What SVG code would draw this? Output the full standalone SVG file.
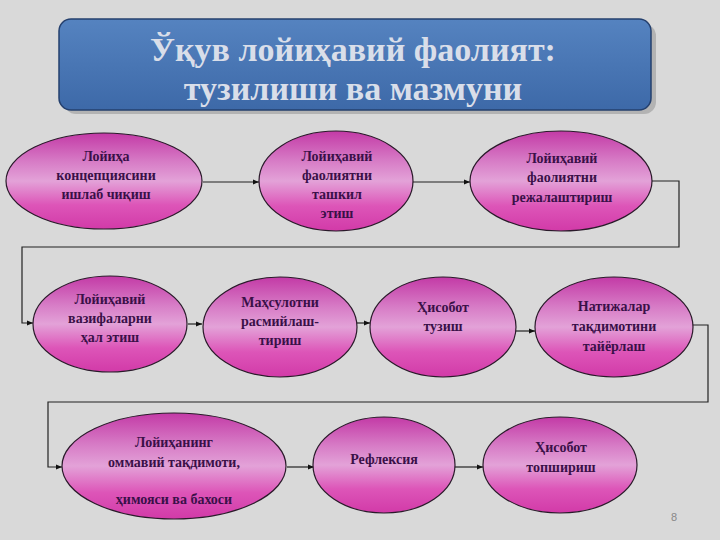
<svg xmlns="http://www.w3.org/2000/svg" width="720" height="540" viewBox="0 0 720 540">
<defs>
<linearGradient id="pink" x1="0" y1="0" x2="0" y2="1">
<stop offset="0" stop-color="#c33aa6"/>
<stop offset="0.3" stop-color="#d77cc6"/>
<stop offset="0.5" stop-color="#e3a2d8"/>
<stop offset="0.75" stop-color="#dd55b8"/>
<stop offset="1" stop-color="#d23aa8"/>
</linearGradient>
<linearGradient id="blue" x1="0" y1="0" x2="0" y2="1">
<stop offset="0" stop-color="#5583c0"/>
<stop offset="1" stop-color="#3d69a8"/>
</linearGradient>
<marker id="arr" viewBox="0 0 10 10" refX="10" refY="5" markerWidth="6" markerHeight="6" orient="auto" markerUnits="userSpaceOnUse">
<path d="M0,1 L10,5 L0,9 z" fill="#111"/>
</marker>
</defs>
<style>
.node ellipse{fill:url(#pink);stroke:#2a1a2a;stroke-width:1.2}
.node text{font-family:'Liberation Serif','Times New Roman','DejaVu Serif',serif;font-weight:bold;font-size:14px;fill:#3a1048;text-anchor:middle}
.conn path{fill:none;stroke:#222;stroke-width:1.2}
.title{font-family:'Liberation Serif','Times New Roman','DejaVu Serif',serif;font-weight:bold;font-size:34px;fill:#d9dee9;text-anchor:middle}
</style>
<rect x="0" y="0" width="720" height="540" fill="#d9d9d9"/>
<g id="title">
<rect x="64" y="24" width="592" height="90" rx="12" fill="#9a9a9a" opacity="0.6"/>
<rect x="59" y="19" width="592" height="91" rx="12" fill="url(#blue)" stroke="#25406e" stroke-width="1.5"/>
<text class="title" x="353" y="61">Ўқув лойиҳавий фаолият:</text>
<text class="title" x="353" y="100">тузилиши ва мазмуни</text>
</g>
<g id="connectors" class="conn">
<path d="M203,182 H259" marker-end="url(#arr)"/>
<path d="M413,182 H470" marker-end="url(#arr)"/>
<path d="M652,181 H679 V247 H22 V323 H33" marker-end="url(#arr)"/>
<path d="M188,324 H202" marker-end="url(#arr)"/>
<path d="M357,323 H370" marker-end="url(#arr)"/>
<path d="M516,331 H535" marker-end="url(#arr)"/>
<path d="M693,325 H708 V402 H48 V467 H62" marker-end="url(#arr)"/>
<path d="M287,467 H314" marker-end="url(#arr)"/>
<path d="M455,467 H483" marker-end="url(#arr)"/>
</g>
<g id="n1" class="node">
<ellipse cx="104" cy="181" rx="98" ry="48"/>
<text x="106" y="161">Лойиҳа</text>
<text x="106" y="180">концепциясини</text>
<text x="106" y="199">ишлаб чиқиш</text>
</g>
<g id="n2" class="node">
<ellipse cx="336" cy="181" rx="77" ry="50"/>
<text x="337" y="161">Лойиҳавий</text>
<text x="337" y="180">фаолиятни</text>
<text x="337" y="199">ташкил</text>
<text x="337" y="218">этиш</text>
</g>
<g id="n3" class="node">
<ellipse cx="561" cy="181" rx="91" ry="50"/>
<text x="562" y="163">Лойиҳавий</text>
<text x="562" y="182">фаолиятни</text>
<text x="562" y="202">режалаштириш</text>
</g>
<g id="n4" class="node">
<ellipse cx="110" cy="324" rx="77" ry="48"/>
<text x="110" y="304">Лойиҳавий</text>
<text x="110" y="323">вазифаларни</text>
<text x="110" y="342">ҳал этиш</text>
</g>
<g id="n5" class="node">
<ellipse cx="280" cy="327" rx="77" ry="50"/>
<text x="280" y="307">Маҳсулотни</text>
<text x="280" y="326">расмийлаш-</text>
<text x="280" y="345">тириш</text>
</g>
<g id="n6" class="node">
<ellipse cx="443" cy="327" rx="73" ry="50"/>
<text x="443" y="312">Ҳисобот</text>
<text x="443" y="331">тузиш</text>
</g>
<g id="n7" class="node">
<ellipse cx="614" cy="327" rx="79" ry="50"/>
<text x="614" y="311">Натижалар</text>
<text x="614" y="331">тақдимотини</text>
<text x="614" y="351">тайёрлаш</text>
</g>
<g id="n8" class="node">
<ellipse cx="174" cy="466" rx="112" ry="53"/>
<text x="174" y="447">Лойиҳанинг</text>
<text x="174" y="467">оммавий тақдимоти,</text>
<text x="174" y="504">ҳимояси ва бахоси</text>
</g>
<g id="n9" class="node">
<ellipse cx="384" cy="465" rx="71" ry="48"/>
<text x="384" y="464">Рефлексия</text>
</g>
<g id="n10" class="node">
<ellipse cx="560" cy="465" rx="77" ry="48"/>
<text x="561" y="452">Ҳисобот</text>
<text x="561" y="472">топшириш</text>
</g>
<text x="674" y="521" font-family="'Liberation Sans', Arial, sans-serif" font-size="11" fill="#888" text-anchor="middle">8</text>
</svg>
